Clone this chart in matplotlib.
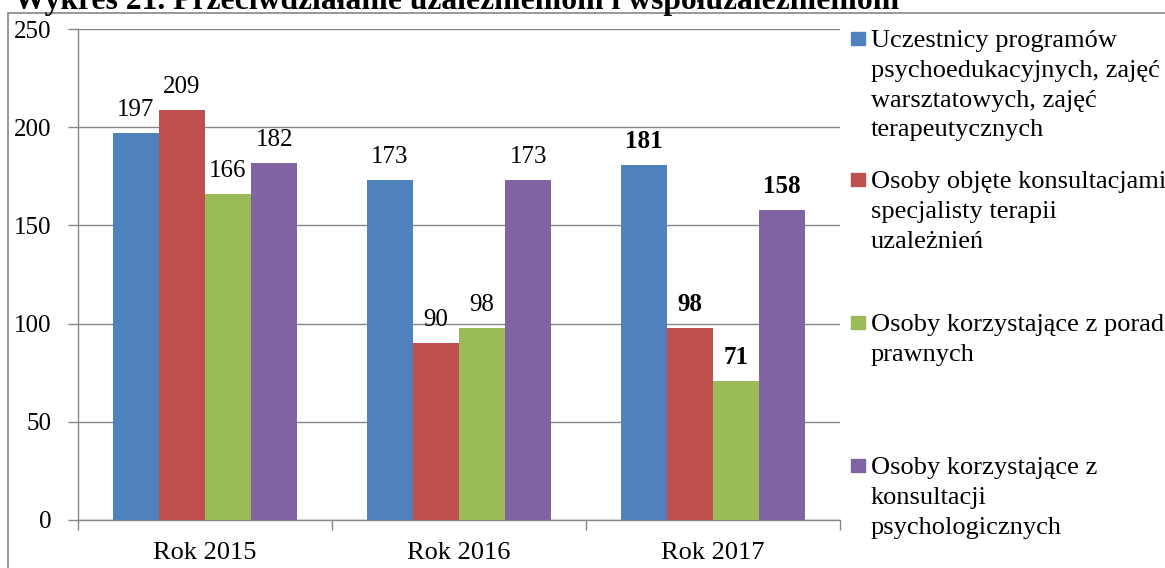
import matplotlib
matplotlib.use("Agg")
import matplotlib.pyplot as plt
from matplotlib.patches import Rectangle
import numpy as np

plt.rcParams['font.family'] = ['Liberation Serif', 'DejaVu Serif']

title = "Wykres 21. Przeciwdziałanie uzależnieniom i współuzależnieniom"
categories = ["Rok 2015", "Rok 2016", "Rok 2017"]
series_names = [
    "Uczestnicy programów\npsychoedukacyjnych, zajęć\nwarsztatowych, zajęć\nterapeutycznych",
    "Osoby objęte konsultacjami\nspecjalisty terapii\nuzależnień",
    "Osoby korzystające z porad\nprawnych",
    "Osoby korzystające z\nkonsultacji\npsychologicznych",
]
uczestnicy = [197, 173, 181]
konsultacje_terapia = [209, 90, 98]
porady_prawne = [166, 98, 71]
konsultacje_psych = [182, 173, 158]
series = [uczestnicy, konsultacje_terapia, porady_prawne, konsultacje_psych]
colors = ["#4F81BD", "#C0504D", "#9BBB59", "#8064A2"]
bold_category = "Rok 2017"
yticks = [0, 50, 100, 150, 200, 250]

W, H = 1165, 568
fig = plt.figure(figsize=(W / 100, H / 100), dpi=100)
ax = fig.add_axes([78 / W, 1 - 520 / H, (840 - 78) / W, (520 - 29) / H])

n = len(series)
bw = 1 / (n + 1.5)
x = np.arange(len(categories))
FS = 18
FS_CAT = 19
for i, (vals, c) in enumerate(zip(series, colors)):
    pos = x - n * bw / 2 + bw * (i + 0.5)
    ax.bar(pos, vals, width=bw, color=c, zorder=3)
    for p, v, cat in zip(pos, vals, categories):
        ax.annotate(str(v), (p, v), xytext=(0, 12.2), textcoords="offset points",
                    ha="center", va="baseline", fontsize=FS,
                    fontweight="bold" if cat == bold_category else "normal")

ax.set_xlim(-0.5, len(categories) - 0.5)
ax.set_ylim(0, 250)
ax.set_yticks(yticks)
ax.set_yticklabels([str(t) for t in yticks], fontsize=FS)
ax.yaxis.grid(True, color="#868686", linewidth=1, zorder=0)
ax.set_axisbelow(True)
ax.set_xticks(x)
ax.set_xticklabels(categories, fontsize=FS_CAT)
ax.tick_params(axis="x", length=0, pad=16)
ax.set_xticks(np.arange(len(categories) + 1) - 0.5, minor=True)
ax.tick_params(axis="x", which="minor", length=7, color="#868686", width=1)
ax.tick_params(axis="y", length=7, color="#868686", width=1, pad=12)
for s in ["top", "right"]:
    ax.spines[s].set_visible(False)
for s in ["left", "bottom"]:
    ax.spines[s].set_color("#868686")
    ax.spines[s].set_linewidth(1)

# Legend (manual, Excel-like layout): marker beside the first line of each label
marker_tops = [32, 173, 316, 459]
LINE_PX = 29.8
for name, c, yt in zip(series_names, colors, marker_tops):
    fig.patches.append(Rectangle((851 / W, 1 - (yt + 13) / H), 14 / W, 13 / H,
                                 transform=fig.transFigure, color=c))
    for k, line in enumerate(name.split("\n")):
        fig.text(871 / W, 1 - (yt + 15 + k * LINE_PX) / H, line, fontsize=FS_CAT,
                 va="baseline", ha="left")

# Outer frame
fig.patches.append(Rectangle((8 / W, -0.1), 1.2, 1 - 13 / H + 0.1,
                             transform=fig.transFigure, fill=False,
                             edgecolor="#868686", linewidth=1.2))
# Clipped title
fig.text(14 / W, 1 - 9.5 / H, title, fontsize=22.8, fontweight="bold",
         va="baseline", ha="left")

fig.savefig("out.png", dpi=100)
